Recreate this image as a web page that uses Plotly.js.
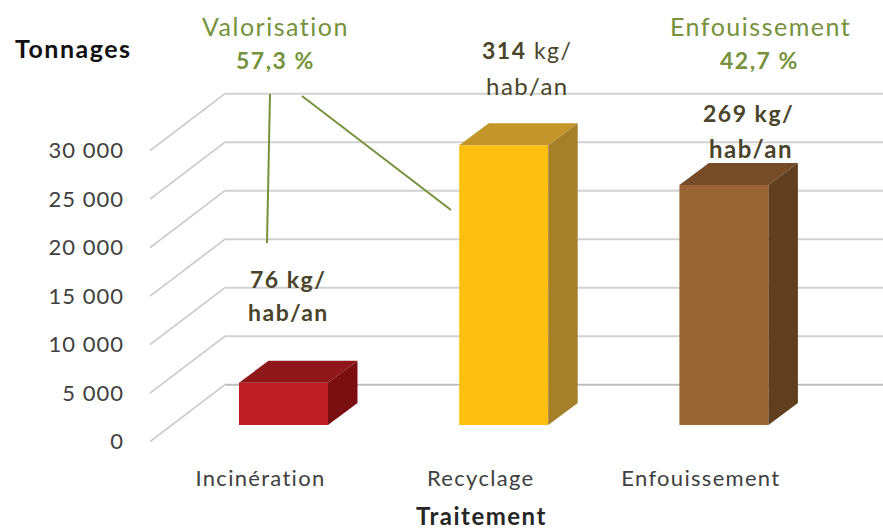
<!DOCTYPE html>
<html><head><meta charset="utf-8">
<script src="https://cdn.plot.ly/plotly-3.0.1.min.js"></script>
<style>html,body{margin:0;padding:0;background:#fff}#c{width:883px;height:531px}
text{letter-spacing:1.5px}
.xtick text{letter-spacing:1.3px}
.ytick text{letter-spacing:1px}</style>
</head><body><div id="c"></div>
<script>
// Data
const categories = ['Incinération', 'Recyclage', 'Enfouissement'];
const tonnages = [4350, 28850, 24750];
const tickValues = [0, 5000, 10000, 15000, 20000, 25000, 30000];
const tickLabels = ['0', '5 000', '10 000', '15 000', '20 000', '25 000', '30 000'];
const frontColors = ['#BE1E24', '#FDC010', '#996633'];
const topColors = ['#8F1619', '#C4962A', '#754C27'];
const sideColors = ['#7A0F12', '#A67F2A', '#5F3F1E'];

// Layout geometry
const W = 883, H = 531, L = 146, R = 883, T = 88, B = 445;
const catStep = 220.2, cat0 = 283.5, valPx = 0.0097, zeroPx = 441.7;
const xr = [(L - cat0) / catStep, (R - cat0) / catStep];
const yr = [(zeroPx - B) / valPx, (zeroPx - T) / valPx];
const wallDx = 75 / catStep, wallDy = 57 / valPx;
const barW = 89 / catStep, barDx = 29.5 / catStep, barDy = 22 / valPx, barBase = 16.7 / valPx;
const wallLeft = (150 - cat0) / catStep;
const labelShift = -23 / catStep;
const px = v => (v - L) / (R - L), py = v => (B - v) / (B - T);

const idx = categories.map((_, i) => i);
const traces = [{
  type: 'bar', x: idx, y: tonnages, base: barBase, width: barW,
  marker: {color: frontColors, line: {width: 0}}, hoverinfo: 'skip', showlegend: false
}];
idx.forEach(i => {
  const l = i - barW / 2, r = i + barW / 2, b = barBase, t = barBase + tonnages[i];
  traces.push({type: 'scatter', mode: 'none', fill: 'toself', fillcolor: topColors[i], hoverinfo: 'skip', showlegend: false,
    x: [l, r, r + barDx, l + barDx, l], y: [t, t, t + barDy, t + barDy, t]});
  traces.push({type: 'scatter', mode: 'none', fill: 'toself', fillcolor: sideColors[i], hoverinfo: 'skip', showlegend: false,
    x: [r, r + barDx, r + barDx, r, r], y: [b, b + barDy, t + barDy, t, b]});
});

const shapes = [];
tickValues.forEach(v => {
  const col = v === 0 ? '#BEBEBE' : '#D2D2D2';
  shapes.push({type: 'line', layer: 'below', xref: 'x', yref: 'y', x0: wallLeft, y0: v, x1: wallLeft + wallDx, y1: v + wallDy, line: {color: '#C8C8C8', width: 1.5}});
  shapes.push({type: 'line', layer: 'below', xref: 'x', yref: 'y', x0: wallLeft + wallDx, y0: v + wallDy, x1: xr[1], y1: v + wallDy, line: {color: col, width: 2}});
});
const green = '#76923C';
[[270, 94, 267, 243], [302, 96, 451, 210]].forEach(s => shapes.push({
  type: 'line', xref: 'paper', yref: 'paper', x0: px(s[0]), y0: py(s[1]), x1: px(s[2]), y1: py(s[3]), line: {color: green, width: 2}
}));

const fam = 'Lato, "Open Sans", sans-serif';
const note = (text, x, y, size, color, anchor) => ({
  text, xref: 'paper', yref: 'paper', x: px(x), y: py(y), xanchor: anchor || 'center', yanchor: 'middle',
  showarrow: false, borderpad: 0, font: {family: fam, size, color}
});
const olive = '#4A452A';
const annotations = [
  note('<b>Tonnages</b>', 14, 48, 25, '#111111', 'left'),
  note('Valorisation', 275, 26, 25, green),
  note('<b>57,3 %</b>', 275, 60, 23, green),
  note('Enfouissement', 760, 26, 25, green),
  note('<b>42,7 %</b>', 759, 60, 23, green),
  note('<b>314</b> kg/', 527, 50, 23, olive),
  note('hab/an', 527, 85, 24, olive),
  note('<b>269 kg/</b>', 748, 113, 23, olive),
  note('<b>hab/an</b>', 751, 148, 24, olive),
  note('<b>76 kg/</b>', 288, 279, 23, olive),
  note('<b>hab/an</b>', 288, 312, 23, olive),
  note('<b>Traitement</b>', 481, 515, 24, '#262626')
];

Plotly.newPlot('c', traces, {
  width: W, height: H, showlegend: false, paper_bgcolor: '#fff', plot_bgcolor: '#fff',
  margin: {l: L, r: W - R, t: T, b: H - B, pad: 0}, barmode: 'overlay',
  xaxis: {range: xr, tickmode: 'array', tickvals: idx.map(i => i + labelShift), ticktext: categories,
    showgrid: false, zeroline: false, showline: false, ticks: '', ticklabelstandoff: 18,
    tickfont: {family: fam, size: 22, color: '#404040'}},
  yaxis: {range: yr, tickmode: 'array', tickvals: tickValues, ticktext: tickLabels,
    showgrid: false, zeroline: false, showline: false, ticks: '', ticklabelstandoff: 21,
    tickfont: {family: fam, size: 22, color: '#404040'}},
  shapes, annotations
}, {displayModeBar: false, staticPlot: true});
</script></body></html>
